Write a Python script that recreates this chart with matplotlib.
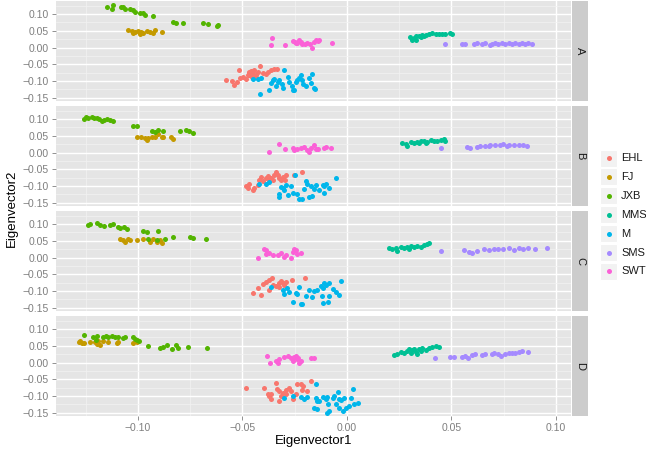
import matplotlib
matplotlib.use("Agg")
import matplotlib.pyplot as plt
from matplotlib.patches import Rectangle
from matplotlib.ticker import MultipleLocator

plt.rcParams['font.family'] = ['Liberation Sans', 'DejaVu Sans']

groups = ['EHL', 'FJ', 'JXB', 'MMS', 'M', 'SMS', 'SWT']
colors = ['#F8766D', '#C49A00', '#53B400', '#00C094', '#00B6EB', '#A58AFF', '#FB61D7']
panels = ['A', 'B', 'C', 'D']

# ---- panel A ----
EHL_A = [(-0.0581, -0.096), (-0.0551, -0.100), (-0.0538, -0.113), (-0.0527, -0.103), (-0.0514, -0.091),
         (-0.0517, -0.068), (-0.0498, -0.088), (-0.0475, -0.083), (-0.0467, -0.076), (-0.0459, -0.071),
         (-0.0451, -0.078), (-0.0443, -0.066), (-0.0435, -0.083), (-0.0454, -0.088), (-0.0427, -0.073),
         (-0.0414, -0.055), (-0.0403, -0.076), (-0.0387, -0.078), (-0.0379, -0.073), (-0.0363, -0.068),
         (-0.0348, -0.065), (-0.0335, -0.063), (-0.0483, -0.093), (-0.0470, -0.073), (-0.0448, -0.071),
         (-0.0460, -0.080), (-0.0440, -0.085), (-0.0470, -0.082)]
FJ_A = [(-0.1049, 0.052), (-0.1030, 0.049), (-0.1014, 0.047), (-0.0998, 0.049), (-0.0983, 0.046),
        (-0.0975, 0.043), (-0.0959, 0.050), (-0.0943, 0.047), (-0.0930, 0.044), (-0.0919, 0.052),
        (-0.0883, 0.047), (-0.1025, 0.045), (-0.0990, 0.042)]
JXB_A = [(-0.1146, 0.120), (-0.1121, 0.127), (-0.1125, 0.115), (-0.1081, 0.120), (-0.1070, 0.122),
         (-0.1062, 0.114), (-0.1038, 0.115), (-0.1022, 0.112), (-0.1014, 0.107), (-0.0990, 0.104),
         (-0.0978, 0.102), (-0.0967, 0.097), (-0.0930, 0.094), (-0.0832, 0.077), (-0.0819, 0.072),
         (-0.0784, 0.074), (-0.0689, 0.072), (-0.0665, 0.069), (-0.0617, 0.067), (-0.0622, 0.064)]
MMS_A = [(0.0300, 0.032), (0.0313, 0.024), (0.0321, 0.029), (0.0329, 0.034), (0.0344, 0.036),
         (0.0360, 0.037), (0.0376, 0.039), (0.0392, 0.042), (0.0408, 0.044), (0.0424, 0.040),
         (0.0440, 0.042), (0.0456, 0.040), (0.0471, 0.042), (0.0495, 0.045), (0.0503, 0.042),
         (0.0329, 0.022), (0.0352, 0.032), (0.0368, 0.034)]
M_A = [(-0.0451, -0.093), (-0.0427, -0.095), (-0.0411, -0.091), (-0.0416, -0.140), (-0.0371, -0.128),
       (-0.0363, -0.106), (-0.0356, -0.098), (-0.0348, -0.093), (-0.0340, -0.116), (-0.0332, -0.103),
       (-0.0324, -0.098), (-0.0311, -0.108), (-0.0305, -0.120), (-0.0300, -0.068), (-0.0284, -0.088),
       (-0.0276, -0.103), (-0.0263, -0.116), (-0.0260, -0.126), (-0.0252, -0.128), (-0.0244, -0.103),
       (-0.0237, -0.098), (-0.0229, -0.090), (-0.0221, -0.083), (-0.0210, -0.108), (-0.0197, -0.116),
       (-0.0181, -0.090), (-0.0165, -0.080), (-0.0157, -0.120), (-0.0152, -0.123), (-0.0173, -0.106),
       (-0.0213, -0.096)]
SMS_A = [(0.0467, 0.012), (0.0551, 0.012), (0.0567, 0.010), (0.0606, 0.012), (0.0622, 0.014),
         (0.0646, 0.012), (0.0662, 0.014), (0.0686, 0.007), (0.0694, 0.012), (0.0710, 0.014),
         (0.0725, 0.012), (0.0741, 0.014), (0.0757, 0.010), (0.0773, 0.014), (0.0789, 0.012),
         (0.0805, 0.014), (0.0821, 0.012), (0.0837, 0.014), (0.0852, 0.012), (0.0868, 0.015),
         (0.0884, 0.012)]
SWT_A = [(-0.0359, 0.029), (-0.0363, 0.007), (-0.0298, 0.009), (-0.0260, 0.020), (-0.0248, 0.017),
         (-0.0237, 0.014), (-0.0221, 0.017), (-0.0213, 0.010), (-0.0200, 0.012), (-0.0189, 0.014),
         (-0.0178, 0.012), (-0.0168, 0.000), (-0.0157, 0.017), (-0.0149, 0.022), (-0.0138, 0.021),
         (-0.0229, 0.022), (-0.0244, 0.014), (-0.0071, 0.015), (-0.0132, 0.022)]

# ---- panel B ----
EHL_B = [(-0.0483, -0.099), (-0.0475, -0.106), (-0.0467, -0.093), (-0.0451, -0.111), (-0.0443, -0.106),
         (-0.0427, -0.096), (-0.0419, -0.081), (-0.0411, -0.072), (-0.0403, -0.086), (-0.0387, -0.076),
         (-0.0379, -0.070), (-0.0371, -0.083), (-0.0363, -0.076), (-0.0356, -0.081), (-0.0348, -0.067),
         (-0.0340, -0.057), (-0.0332, -0.067), (-0.0324, -0.076), (-0.0316, -0.081), (-0.0308, -0.072),
         (-0.0295, -0.081), (-0.0292, -0.067), (-0.0252, -0.067), (-0.0213, -0.057)]
FJ_B = [(-0.1006, 0.046), (-0.0983, 0.046), (-0.0967, 0.044), (-0.0951, 0.044), (-0.0935, 0.048),
        (-0.0919, 0.046), (-0.0903, 0.054), (-0.0887, 0.048), (-0.0879, 0.046), (-0.0844, 0.046),
        (-0.0832, 0.041), (-0.0959, 0.038)]
JXB_B = [(-0.1260, 0.100), (-0.1248, 0.107), (-0.1241, 0.103), (-0.1221, 0.107), (-0.1210, 0.102),
         (-0.1197, 0.103), (-0.1184, 0.100), (-0.1173, 0.095), (-0.1162, 0.097), (-0.1149, 0.100),
         (-0.1133, 0.097), (-0.1121, 0.093), (-0.1022, 0.080), (-0.1003, 0.080), (-0.0935, 0.064),
         (-0.0919, 0.061), (-0.0903, 0.066), (-0.0879, 0.064), (-0.0800, 0.064), (-0.0768, 0.068),
         (-0.0756, 0.064), (-0.0737, 0.058)]
MMS_B = [(0.0265, 0.028), (0.0281, 0.026), (0.0289, 0.019), (0.0305, 0.031), (0.0321, 0.028),
         (0.0337, 0.031), (0.0352, 0.034), (0.0368, 0.036), (0.0384, 0.033), (0.0400, 0.038),
         (0.0416, 0.036), (0.0432, 0.034), (0.0448, 0.038), (0.0463, 0.041), (0.0471, 0.036),
         (0.0344, 0.028), (0.0376, 0.030)]
M_B = [(-0.0419, -0.093), (-0.0387, -0.093), (-0.0375, -0.089), (-0.0324, -0.125), (-0.0327, -0.132),
       (-0.0316, -0.103), (-0.0308, -0.106), (-0.0300, -0.111), (-0.0292, -0.096), (-0.0284, -0.128),
       (-0.0268, -0.101), (-0.0260, -0.121), (-0.0248, -0.067), (-0.0237, -0.125), (-0.0229, -0.138),
       (-0.0213, -0.138), (-0.0205, -0.109), (-0.0197, -0.086), (-0.0189, -0.093), (-0.0181, -0.132),
       (-0.0173, -0.101), (-0.0165, -0.130), (-0.0157, -0.109), (-0.0149, -0.096), (-0.0133, -0.111),
       (-0.0110, -0.101), (-0.0086, -0.106), (-0.0116, -0.096), (-0.0100, -0.093), (-0.0108, -0.121),
       (-0.0052, -0.076)]
SMS_B = [(0.0452, 0.014), (0.0575, 0.017), (0.0590, 0.015), (0.0622, 0.017), (0.0638, 0.020),
         (0.0662, 0.020), (0.0686, 0.022), (0.0710, 0.024), (0.0733, 0.022), (0.0749, 0.025),
         (0.0773, 0.022), (0.0797, 0.024), (0.0821, 0.022), (0.0844, 0.022), (0.0860, 0.020),
         (0.0678, 0.019), (0.0765, 0.019)]
SWT_B = [(-0.0371, 0.001), (-0.0327, 0.026), (-0.0295, 0.010), (-0.0260, 0.015), (-0.0252, 0.009),
         (-0.0241, 0.012), (-0.0221, 0.015), (-0.0205, 0.017), (-0.0189, 0.009), (-0.0181, 0.002),
         (-0.0173, 0.014), (-0.0157, 0.022), (-0.0149, 0.012), (-0.0138, 0.012), (-0.0110, 0.014),
         (-0.0100, 0.017), (-0.0076, 0.015)]

# ---- panel C ----
EHL_C = [(-0.0451, -0.106), (-0.0427, -0.091), (-0.0411, -0.111), (-0.0403, -0.079), (-0.0387, -0.072),
         (-0.0371, -0.067), (-0.0359, -0.062), (-0.0356, -0.083), (-0.0340, -0.086), (-0.0327, -0.076),
         (-0.0316, -0.070), (-0.0308, -0.076), (-0.0300, -0.081), (-0.0292, -0.074), (-0.0263, -0.067),
         (-0.0200, -0.060), (-0.0375, -0.096), (-0.0324, -0.089)]
FJ_C = [(-0.1086, 0.054), (-0.1070, 0.051), (-0.1062, 0.048), (-0.1046, 0.054), (-0.1038, 0.051),
        (-0.1006, 0.051), (-0.0975, 0.056), (-0.0943, 0.048), (-0.0927, 0.054), (-0.0911, 0.048),
        (-0.0895, 0.051), (-0.0883, 0.044)]
JXB_C = [(-0.1241, 0.097), (-0.1229, 0.100), (-0.1197, 0.103), (-0.1181, 0.097), (-0.1162, 0.093),
         (-0.1133, 0.097), (-0.1117, 0.100), (-0.1094, 0.090), (-0.1086, 0.087), (-0.1067, 0.090),
         (-0.1054, 0.085), (-0.0975, 0.080), (-0.0959, 0.077), (-0.0903, 0.078), (-0.0951, 0.056),
         (-0.0911, 0.051), (-0.0871, 0.056), (-0.0832, 0.061), (-0.0752, 0.061), (-0.0737, 0.058),
         (-0.0673, 0.054)]
MMS_C = [(0.0202, 0.029), (0.0217, 0.026), (0.0241, 0.019), (0.0257, 0.031), (0.0273, 0.028),
         (0.0289, 0.033), (0.0305, 0.034), (0.0321, 0.031), (0.0337, 0.036), (0.0352, 0.033),
         (0.0368, 0.038), (0.0384, 0.041), (0.0392, 0.044), (0.0233, 0.028), (0.0297, 0.026)]
M_C = [(-0.0363, -0.089), (-0.0308, -0.096), (-0.0300, -0.109), (-0.0289, -0.091), (-0.0276, -0.103),
       (-0.0260, -0.132), (-0.0244, -0.106), (-0.0237, -0.109), (-0.0229, -0.089), (-0.0221, -0.140),
       (-0.0213, -0.138), (-0.0197, -0.116), (-0.0181, -0.096), (-0.0165, -0.119), (-0.0157, -0.101),
       (-0.0141, -0.096), (-0.0125, -0.086), (-0.0117, -0.116), (-0.0102, -0.081), (-0.0086, -0.076),
       (-0.0116, -0.091), (-0.0108, -0.076), (-0.0068, -0.093), (-0.0052, -0.103), (-0.0037, -0.111),
       (-0.0029, -0.070), (-0.0092, -0.132), (-0.0113, -0.135), (-0.0084, -0.116)]
SMS_C = [(0.0452, 0.019), (0.0559, 0.022), (0.0583, 0.017), (0.0598, 0.015), (0.0622, 0.019),
         (0.0654, 0.025), (0.0678, 0.024), (0.0702, 0.026), (0.0725, 0.025), (0.0749, 0.026),
         (0.0773, 0.028), (0.0797, 0.024), (0.0821, 0.029), (0.0844, 0.026), (0.0868, 0.028),
         (0.0900, 0.026), (0.0957, 0.029)]
SWT_C = [(-0.0427, 0.000), (-0.0395, 0.026), (-0.0387, 0.012), (-0.0371, 0.015), (-0.0356, 0.007),
         (-0.0332, 0.007), (-0.0316, 0.015), (-0.0300, 0.002), (-0.0292, 0.007), (-0.0268, -0.001),
         (-0.0260, 0.017), (-0.0244, 0.022), (-0.0237, 0.012), (-0.0221, 0.015), (-0.0252, 0.026),
         (-0.0387, 0.022)]

# ---- panel D ----
EHL_D = [(-0.0483, -0.077), (-0.0395, -0.077), (-0.0379, -0.093), (-0.0375, -0.100), (-0.0363, -0.110),
         (-0.0340, -0.060), (-0.0337, -0.080), (-0.0324, -0.085), (-0.0316, -0.100), (-0.0308, -0.090),
         (-0.0292, -0.083), (-0.0279, -0.077), (-0.0268, -0.085), (-0.0260, -0.110), (-0.0244, -0.095),
         (-0.0237, -0.065), (-0.0221, -0.065), (-0.0213, -0.083), (-0.0210, -0.070), (-0.0189, -0.085),
         (-0.0173, -0.055), (-0.0324, -0.115), (-0.0363, -0.095), (-0.0292, -0.095)]
FJ_D = [(-0.1284, 0.060), (-0.1276, 0.063), (-0.1268, 0.057), (-0.1260, 0.058), (-0.1229, 0.060),
        (-0.1205, 0.060), (-0.1197, 0.055), (-0.1189, 0.063), (-0.1181, 0.053), (-0.1165, 0.063),
        (-0.1141, 0.060), (-0.1102, 0.057), (-0.1094, 0.060), (-0.1022, 0.057), (-0.1006, 0.060)]
JXB_D = [(-0.1257, 0.083), (-0.1213, 0.077), (-0.1197, 0.080), (-0.1165, 0.075), (-0.1152, 0.080),
         (-0.1141, 0.077), (-0.1125, 0.080), (-0.1110, 0.077), (-0.1094, 0.075), (-0.1070, 0.073),
         (-0.1062, 0.075), (-0.1022, 0.075), (-0.1014, 0.070), (-0.1006, 0.067), (-0.0994, 0.063),
         (-0.0954, 0.050), (-0.0895, 0.045), (-0.0879, 0.047), (-0.0863, 0.053), (-0.0835, 0.040),
         (-0.0816, 0.053), (-0.0808, 0.045), (-0.0760, 0.048), (-0.0668, 0.043), (-0.1200, 0.067)]
MMS_D = [(0.0225, 0.023), (0.0241, 0.027), (0.0257, 0.033), (0.0273, 0.030), (0.0289, 0.035),
         (0.0297, 0.040), (0.0313, 0.037), (0.0329, 0.033), (0.0344, 0.040), (0.0360, 0.043),
         (0.0376, 0.037), (0.0392, 0.043), (0.0408, 0.047), (0.0424, 0.050), (0.0440, 0.047),
         (0.0337, 0.027), (0.0305, 0.030), (0.0321, 0.040), (0.0352, 0.035)]
M_D = [(-0.0300, -0.105), (-0.0260, -0.100), (-0.0221, -0.103), (-0.0205, -0.110), (-0.0189, -0.103),
       (-0.0149, -0.063), (-0.0149, -0.107), (-0.0141, -0.115), (-0.0157, -0.137), (-0.0141, -0.140),
       (-0.0094, -0.103), (-0.0094, -0.150), (-0.0132, -0.115), (-0.0116, -0.103), (-0.0100, -0.110),
       (-0.0092, -0.123), (-0.0084, -0.145), (-0.0068, -0.107), (-0.0052, -0.123), (-0.0044, -0.087),
       (-0.0037, -0.135), (-0.0029, -0.113), (-0.0021, -0.145), (-0.0013, -0.107), (-0.0005, -0.135),
       (0.0011, -0.130), (0.0019, -0.105), (0.0027, -0.080), (0.0035, -0.123), (0.0051, -0.120),
       (-0.0060, -0.100), (-0.0037, -0.110)]
SMS_D = [(0.0421, 0.015), (0.0495, 0.017), (0.0511, 0.018), (0.0551, 0.017), (0.0567, 0.020),
         (0.0579, 0.015), (0.0598, 0.023), (0.0614, 0.025), (0.0646, 0.023), (0.0662, 0.025),
         (0.0694, 0.025), (0.0702, 0.030), (0.0725, 0.025), (0.0738, 0.020), (0.0757, 0.027),
         (0.0773, 0.030), (0.0789, 0.028), (0.0805, 0.030), (0.0821, 0.033), (0.0837, 0.035),
         (0.0865, 0.032)]
SWT_D = [(-0.0383, 0.020), (-0.0368, 0.000), (-0.0340, 0.005), (-0.0332, 0.000), (-0.0324, 0.010),
         (-0.0300, 0.017), (-0.0284, 0.020), (-0.0268, 0.015), (-0.0260, 0.005), (-0.0252, 0.017),
         (-0.0237, 0.010), (-0.0229, 0.000), (-0.0221, 0.005), (-0.0173, 0.015), (-0.0157, 0.013),
         (-0.0232, 0.015), (-0.0244, 0.020)]

data = {
    'A': [EHL_A, FJ_A, JXB_A, MMS_A, M_A, SMS_A, SWT_A],
    'B': [EHL_B, FJ_B, JXB_B, MMS_B, M_B, SMS_B, SWT_B],
    'C': [EHL_C, FJ_C, JXB_C, MMS_C, M_C, SMS_C, SWT_C],
    'D': [EHL_D, FJ_D, JXB_D, MMS_D, M_D, SMS_D, SWT_D],
}

W, H = 646, 454
fig = plt.figure(figsize=(W / 100, H / 100), dpi=100)

def px_box(x0, y0, x1, y1):
    return [x0 / W, 1 - y1 / H, (x1 - x0) / W, (y1 - y0) / H]

grey50 = '#7F7F7F'
tops = [1, 106, 211, 316]
for i, p in enumerate(panels):
    t = tops[i]
    ax = fig.add_axes(px_box(56, t, 571, t + 100))
    ax.set_facecolor('#E5E5E5')
    for s in ax.spines.values():
        s.set_visible(False)
    ax.set_xlim(-0.1392, 0.1072)
    ax.set_ylim(-0.1598, 0.1392)
    ax.xaxis.set_major_locator(MultipleLocator(0.05))
    ax.yaxis.set_major_locator(MultipleLocator(0.05))
    ax.xaxis.set_minor_locator(MultipleLocator(0.025))
    ax.yaxis.set_minor_locator(MultipleLocator(0.025))
    ax.grid(which='minor', color='#F2F2F2', linewidth=0.5)
    ax.grid(which='major', color='white', linewidth=1.0)
    ax.set_axisbelow(True)
    ax.tick_params(which='minor', length=0)
    ax.tick_params(which='major', length=3, width=0.6, color=grey50,
                   labelcolor=grey50, labelsize=7.5, pad=2)
    ax.set_yticks([-0.15, -0.10, -0.05, 0.0, 0.05, 0.10])
    ax.set_yticklabels(['\u22120.15', '\u22120.10', '\u22120.05', '0.00', '0.05', '0.10'])
    if p == 'D':
        ax.set_xticks([-0.10, -0.05, 0.0, 0.05, 0.10])
        ax.set_xticklabels(['\u22120.10', '\u22120.05', '0.00', '0.05', '0.10'])
    else:
        ax.tick_params(axis='x', which='major', labelbottom=False, length=0)
    for g, pts, c in zip(groups, data[p], colors):
        xs = [q[0] for q in pts]
        ys = [q[1] for q in pts]
        ax.scatter(xs, ys, s=13, color=c, linewidths=0, zorder=3)

    strip = fig.add_axes(px_box(572, t, 588, t + 100))
    strip.set_facecolor('#CCCCCC')
    strip.set_xticks([])
    strip.set_yticks([])
    for s in strip.spines.values():
        s.set_visible(False)
    strip.text(0.5, 0.5, p, rotation=-90, ha='center', va='center',
               fontsize=8, color='#1A1A1A', transform=strip.transAxes)

fig.text(313.5 / W, 1 - 441 / H, 'Eigenvector1', ha='center', va='center', fontsize=9.5)
fig.text(12 / W, 1 - 208 / H, 'Eigenvector2', ha='center', va='center', rotation=90, fontsize=9.5)

# legend
lg = fig.add_axes([0, 0, 1, 1])
lg.set_xlim(0, W)
lg.set_ylim(H, 0)
lg.axis('off')
for k, (g, c) in enumerate(zip(groups, colors)):
    yc = 158 + k * 18.9
    lg.add_patch(Rectangle((600, yc - 8.5), 17, 17, facecolor='#F2F2F2', edgecolor='white', linewidth=0.8))
    lg.scatter([608.5], [yc], s=13, color=c, linewidths=0)
    lg.text(621, yc, g, ha='left', va='center', fontsize=8, color='#1A1A1A')

fig.savefig('out.png', dpi=100)
